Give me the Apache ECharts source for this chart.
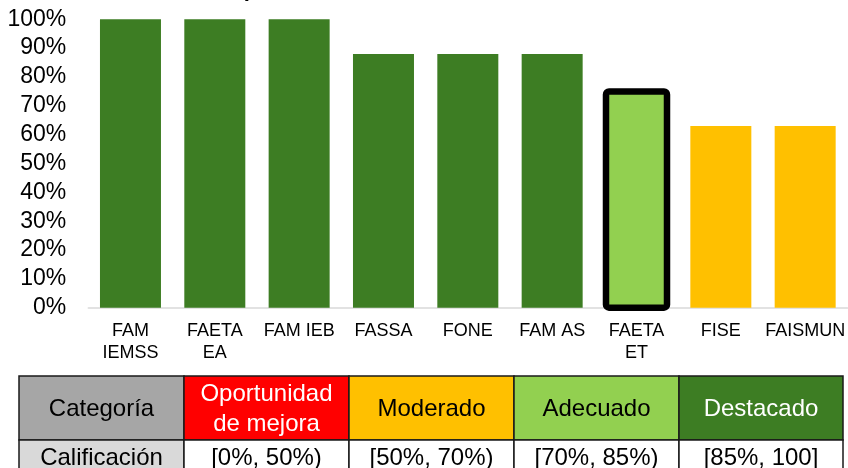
<!DOCTYPE html>
<html>
<head>
<meta charset="utf-8">
<script src="https://cdn.jsdelivr.net/npm/echarts@6/dist/echarts.min.js"></script>
<style>
html,body{margin:0;padding:0;background:#fff;}
#chart{width:848px;height:468px;}
</style>
</head>
<body>
<div id="chart"></div>
<script>
var categories = ['FAM\nIEMSS', 'FAETA\nEA', 'FAM IEB', 'FASSA', 'FONE', 'FAM AS', 'FAETA\nET', 'FISE', 'FAISMUN'];
var values = [100, 100, 100, 88, 88, 88, 75, 63, 63];
var barColors = ['#3D7D23', '#3D7D23', '#3D7D23', '#3D7D23', '#3D7D23', '#3D7D23', '#92D050', '#FFC000', '#FFC000'];
var highlighted = [false, false, false, false, false, false, true, false, false];
var yTicks = ['0%', '10%', '20%', '30%', '40%', '50%', '60%', '70%', '80%', '90%', '100%'];

var tableHeader = ['Categoría', 'Oportunidad\nde mejora', 'Moderado', 'Adecuado', 'Destacado'];
var tableRanges = ['Calificación', '[0%, 50%)', '[50%, 70%)', '[70%, 85%)', '[85%, 100]'];
var headerFill = ['#A6A6A6', '#FF0000', '#FFC000', '#92D050', '#3D7D23'];
var headerText = ['#000000', '#FFFFFF', '#000000', '#000000', '#FFFFFF'];
var rangeFill = ['#D9D9D9', '#FFFFFF', '#FFFFFF', '#FFFFFF', '#FFFFFF'];

var chart = echarts.init(document.getElementById('chart'), null, {renderer: 'canvas'});

var colX = [19, 184, 349, 514, 679, 843];
var rowY = [376, 440, 476];
var graphics = [];
for (var i = 0; i < tableHeader.length; i++) {
  var x0 = colX[i], w = colX[i + 1] - colX[i];
  graphics.push({type: 'rect', shape: {x: x0, y: rowY[0], width: w, height: rowY[1] - rowY[0]},
    style: {fill: headerFill[i], stroke: '#1a1a1a', lineWidth: 1.5}, z: 10});
  graphics.push({type: 'rect', shape: {x: x0, y: rowY[1], width: w, height: rowY[2] - rowY[1]},
    style: {fill: rangeFill[i], stroke: '#1a1a1a', lineWidth: 1.5}, z: 10});
  graphics.push({type: 'text', x: x0 + w / 2, y: 409, z: 11,
    style: {text: tableHeader[i], fill: headerText[i], align: 'center', verticalAlign: 'middle',
      font: '24px Arial, "Liberation Sans", sans-serif', lineHeight: 30}});
  graphics.push({type: 'text', x: x0 + w / 2, y: 458, z: 11,
    style: {text: tableRanges[i], fill: '#000', align: 'center', verticalAlign: 'middle',
      font: '24px Arial, "Liberation Sans", sans-serif'}});
}

var outlineData = [];
values.forEach(function (v, i) { if (highlighted[i]) outlineData.push([i, v]); });

var BAR_W = 61;

var option = {
  animation: false,
  backgroundColor: '#ffffff',
  title: {
    text: 'Nivel de cumplimiento',
    left: 103,
    top: -26,
    textStyle: {fontFamily: 'Arial, "Liberation Sans", sans-serif', fontWeight: 'bold', fontSize: 22, color: '#000'}
  },
  grid: {left: 88.3, right: -2.5, top: 19.3, bottom: 160.3, containLabel: false},
  xAxis: {
    type: 'category',
    data: categories,
    axisLine: {show: true, lineStyle: {color: '#D9D9D9', width: 1.5}},
    axisTick: {show: false},
    axisLabel: {
      interval: 0, margin: 12, color: '#000',
      fontFamily: 'Arial, "Liberation Sans", sans-serif', fontSize: 18, lineHeight: 22
    }
  },
  yAxis: {
    type: 'value',
    min: 0, max: 100, interval: 10,
    axisLine: {show: false},
    axisTick: {show: false},
    splitLine: {show: false},
    axisLabel: {
      margin: 22, color: '#000',
      fontFamily: 'Arial, "Liberation Sans", sans-serif', fontSize: 23,
      formatter: function (v) { return yTicks[Math.round(v / 10)]; }
    }
  },
  series: [{
    type: 'bar',
    barWidth: BAR_W,
    data: values.map(function (v, i) {
      return {value: v, itemStyle: {color: barColors[i]}};
    }),
    z: 3
  }, {
    type: 'custom',
    clip: false,
    z: 4,
    data: outlineData,
    renderItem: function (params, api) {
      var top = api.coord([api.value(0), api.value(1)]);
      var base = api.coord([api.value(0), 0]);
      return {
        type: 'rect',
        shape: {x: top[0] - BAR_W / 2, y: top[1], width: BAR_W, height: base[1] - top[1], r: 3},
        style: {fill: 'none', stroke: '#000', lineWidth: 6.5}
      };
    }
  }],
  graphic: graphics
};
chart.setOption(option);
</script>
</body>
</html>
